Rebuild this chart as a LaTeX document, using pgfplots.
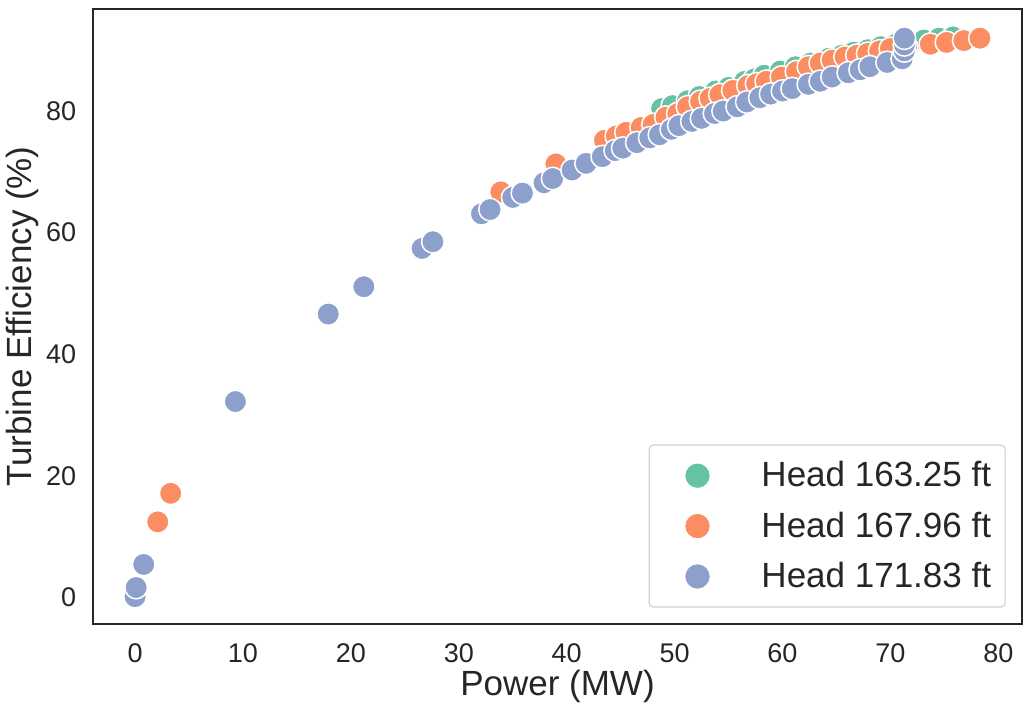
\documentclass[border=0pt]{standalone}
\usepackage{fontspec}
\setmainfont{Liberation Sans}
\usepackage{pgfplots}
\pgfplotsset{compat=1.18}
\definecolor{cgreen}{HTML}{66C2A5}
\definecolor{corange}{HTML}{FC8D62}
\definecolor{cblue}{HTML}{8DA0CB}
\definecolor{textgray}{HTML}{262626}

\begin{document}
\begin{tikzpicture}
\begin{axis}[
  scale only axis, width=464.5pt, height=307.5pt,
  xmin=-3.9, xmax=82.2, ymin=-4.4, ymax=96.8,
  xtick={0,10,...,80}, ytick={0,20,...,80},
  major tick length=0pt,
  axis line style={textgray, line width=1pt},
  /pgf/number format/assume math mode=true,
  tick label style={font=\fontsize{13.5}{16}\selectfont, text=textgray},
  xticklabel style={anchor=north, inner sep=0pt, yshift=-9.5pt},
  yticklabel style={anchor=east, inner sep=0pt, xshift=-8.2pt},
  xlabel={Power (MW)}, ylabel={Turbine Efficiency (\%)},
  label style={font=\fontsize{17.5}{20}\selectfont, text=textgray},
  xlabel style={at={(axis description cs:0.5,-0.1008)}, anchor=center},
  ylabel style={at={(axis description cs:-0.0764,0.5)}, anchor=center},
  legend cell align=left,
  legend style={at={(1,0)}, anchor=south east, xshift=-8.15pt, yshift=8.15pt,
    draw=black!18, line width=0.6pt, rounded corners=2pt, fill=white,
    inner xsep=7pt, inner ysep=2.7pt, column sep=0pt, row sep=0pt,
    nodes={inner sep=0pt, text=textgray},
    font=\fontsize{17.5}{20}\selectfont},
  legend image code/.code={%
    \path[draw=none, fill=none] (-17.15pt,-12.6pt) rectangle (32pt,12.6pt);
    \draw[#1, mark size=6.5pt] plot coordinates {(0pt,0pt)};},
  every axis plot/.append style={only marks, mark=*, mark size=5.65pt,
    mark options={draw=white, line width=0.75pt}},
]
\addplot[fill=cgreen, draw=white] coordinates {
(48.8,80.4) (49.8,80.9) (51.2,81.7) (52.3,82.4) (53.8,83.3) (55.0,83.9)
(56.5,84.9) (57.4,85.3) (58.3,85.9) (59.8,86.6) (61.2,87.3) (62.6,87.9)
(64.3,88.7) (65.5,89.2) (66.6,89.7) (67.9,90.1) (69.1,90.6) (70.5,91.0)
(72.0,91.4) (73.1,91.7) (74.5,92.0) (75.8,92.2)
};
\addlegendentry{Head 163.25 ft}
\addplot[fill=corange, draw=white] coordinates {
(2.1,12.4) (3.3,17.1) (33.9,66.7) (39.0,71.3) (43.5,75.2) (44.6,75.9)
(45.5,76.5) (46.9,77.3) (48.0,77.8) (49.2,79.0) (50.3,79.6) (51.2,80.7)
(52.4,81.6) (53.3,82.1) (54.2,82.7) (55.4,83.4) (56.8,84.2) (57.6,84.5)
(58.5,84.9) (59.9,85.6) (61.3,86.5) (62.4,87.3) (63.5,87.9) (64.6,88.4)
(65.8,88.9) (66.9,89.2) (67.9,89.5) (69.0,89.9) (70.0,90.3) (71.5,90.6)
(73.7,91.0) (75.2,91.3) (76.8,91.6) (78.3,92.0)
};
\addlegendentry{Head 167.96 ft}
\addplot[fill=cblue, draw=white] coordinates {
(0.0,0.1) (0.1,1.6) (0.8,5.4) (9.3,32.2) (17.9,46.6) (21.2,51.1)
(26.6,57.4) (27.6,58.5) (32.1,63.1) (32.9,63.8) (35.0,65.8) (35.9,66.5)
(37.9,68.2) (38.7,68.9) (40.5,70.3) (41.8,71.4) (43.3,72.5) (44.5,73.5)
(45.2,73.9) (46.5,74.8) (47.7,75.6) (48.6,76.1) (49.7,77.0) (50.4,77.6)
(51.6,78.3) (52.5,78.8) (53.7,79.6) (54.5,80.0) (55.8,80.7) (56.7,81.5)
(57.9,82.2) (58.9,82.8) (60.0,83.3) (60.9,83.7) (62.4,84.4) (63.5,84.9)
(64.6,85.6) (66.1,86.3) (67.2,86.8) (68.1,87.3) (69.7,88.0) (71.1,88.6)
(71.3,89.9) (71.3,90.9) (71.3,92.0)
};
\addlegendentry{Head 171.83 ft}
\end{axis}
\pgfresetboundingbox
\path ([xshift=-46.5pt,yshift=-44.5pt]current axis.south west)
  rectangle ([xshift=5pt,yshift=4.5pt]current axis.north east);
\end{tikzpicture}
\end{document}
